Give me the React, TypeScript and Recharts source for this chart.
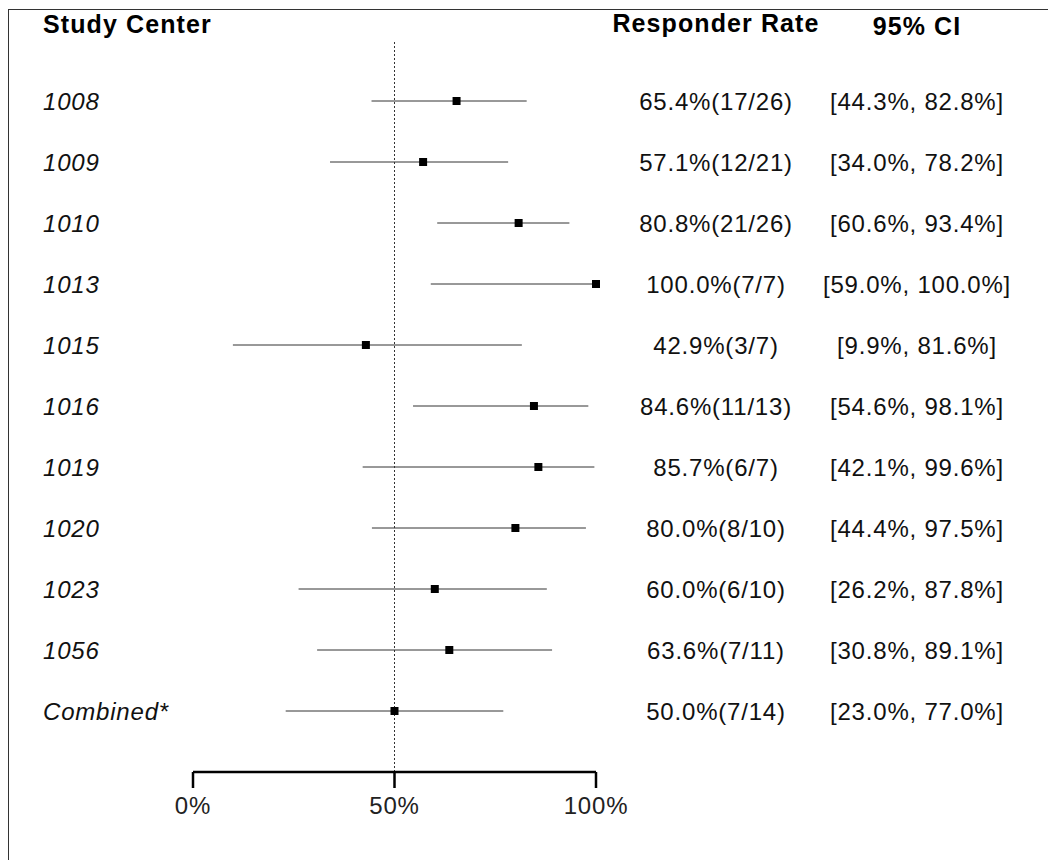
import React from "react";
import {
  ScatterChart,
  Scatter,
  XAxis,
  YAxis,
  ErrorBar,
  ReferenceLine,
} from "recharts";

const centers = ["1008", "1009", "1010", "1013", "1015", "1016", "1019", "1020", "1023", "1056", "Combined*"];
const rates = [65.4, 57.1, 80.8, 100.0, 42.9, 84.6, 85.7, 80.0, 60.0, 63.6, 50.0];
const responders = [17, 12, 21, 7, 3, 11, 6, 8, 6, 7, 7];
const totals = [26, 21, 26, 7, 7, 13, 7, 10, 10, 11, 14];
const ciLow = [44.3, 34.0, 60.6, 59.0, 9.9, 54.6, 42.1, 44.4, 26.2, 30.8, 23.0];
const ciHigh = [82.8, 78.2, 93.4, 100.0, 81.6, 98.1, 99.6, 97.5, 87.8, 89.1, 77.0];
const xTicks = [0, 50, 100];

const FONT = "'Liberation Sans', Arial, sans-serif";
const W = 1048;
const H = 852;

const data = centers.map((c, i) => ({
  row: i + 1,
  rate: rates[i],
  err: [rates[i] - ciLow[i], ciHigh[i] - rates[i]],
}));

const rowTicks = data.map((d) => d.row);

function RowTick(props: any) {
  const { y, payload } = props;
  const i = payload.value - 1;
  if (i < 0 || i >= centers.length) return null;
  const rateText = `${rates[i].toFixed(1)}%(${responders[i]}/${totals[i]})`;
  const ciText = `[${ciLow[i].toFixed(1)}%, ${ciHigh[i].toFixed(1)}%]`;
  return (
    <g fontFamily={FONT} fontSize={24} fill="#111" style={{ letterSpacing: "0.8px" }}>
      <text x={35} y={y} dy="0.355em" fontStyle="italic" textAnchor="start">
        {centers[i]}
      </text>
      <text x={708} y={y} dy="0.355em" textAnchor="middle">
        {rateText}
      </text>
      <text x={909} y={y} dy="0.355em" textAnchor="middle">
        {ciText}
      </text>
    </g>
  );
}

export default function App() {
  return (
    <div style={{ position: "relative", width: W, height: H, overflow: "hidden" }}>
      <ScatterChart width={W} height={H} margin={{ top: 32, right: 460, bottom: 48, left: 0 }}>
        <XAxis
          type="number"
          dataKey="rate"
          domain={[0, 100]}
          ticks={xTicks}
          tickFormatter={(v) => `${v}%`}
          axisLine={{ stroke: "#000", strokeWidth: 2.5 }}
          tickLine={{ stroke: "#000", strokeWidth: 2.5 }}
          tickSize={16}
          tickMargin={9}
          height={40}
          tick={{ fontSize: 24, fill: "#222", fontFamily: FONT, style: { letterSpacing: "0.8px" } }}
        />
        <YAxis
          type="number"
          dataKey="row"
          domain={[0, 12]}
          reversed
          ticks={rowTicks}
          interval={0}
          width={185}
          axisLine={false}
          tickLine={false}
          tick={<RowTick />}
        />
        <ReferenceLine x={50} stroke="#333" strokeDasharray="2 2" strokeWidth={1} />
        <Scatter data={data} shape="square" fill="#000" isAnimationActive={false}>
          <ErrorBar dataKey="err" direction="x" width={0} stroke="#333" strokeWidth={1} />
        </Scatter>
      </ScatterChart>
      <svg
        width={W}
        height={60}
        style={{ position: "absolute", left: 0, top: 0, pointerEvents: "none" }}
      >
        <g fontFamily={FONT} fontSize={25} fontWeight="bold" fill="#000" style={{ letterSpacing: "1.1px" }}>
          <text x={35} y={25}>Study Center</text>
          <text x={708} y={24} textAnchor="middle">Responder Rate</text>
          <text x={909} y={27} textAnchor="middle">95% CI</text>
        </g>
      </svg>
      <div
        style={{
          position: "absolute",
          left: 0,
          top: 1,
          width: W + 10,
          height: H + 10,
          borderLeft: "1px solid #333",
          borderTop: "1px solid #333",
          pointerEvents: "none",
        }}
      />
    </div>
  );
}
